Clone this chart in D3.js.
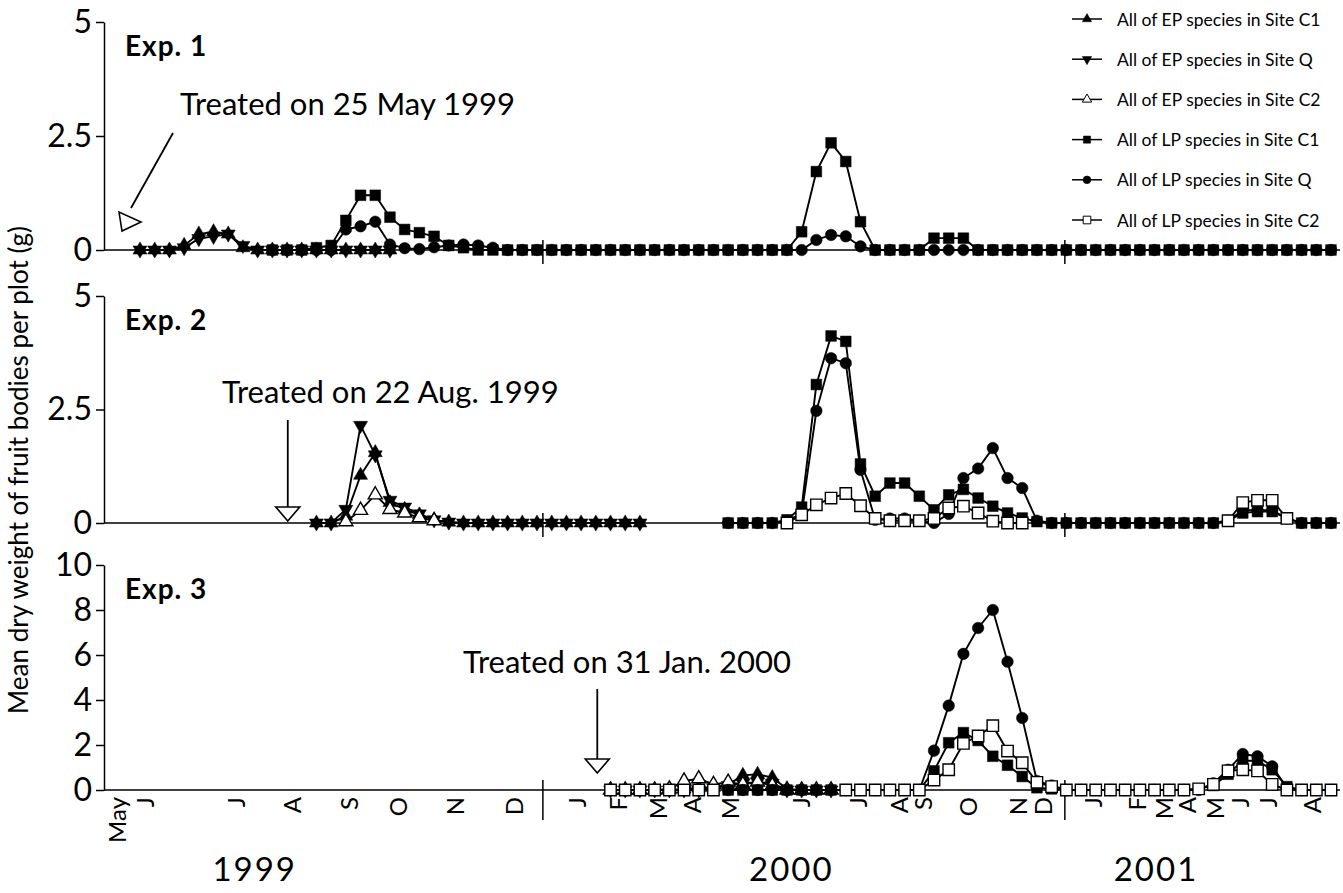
<!DOCTYPE html>
<html>
<head>
<meta charset="utf-8">
<script src="https://cdn.jsdelivr.net/npm/d3@7"></script>
<style>
  body { margin: 0; background: #fff; }
  text { font-family: Lato, "Open Sans", sans-serif; fill: #000; }
</style>
</head>
<body>
<div id="chart"></div>
<script>
const W = 1343;
const H = 893;

// x axis is the sampling sequence (one step per sampling date), not calendar time
const monthLabels = ['May','J','J','A','S','O','N','D','J','F','M','A','M','J','J','A','S','O','N','D','J','F','M','A','M','J','J','A'];
const monthAt = [-1.6,0.3,6.5,10.3,14.2,17.5,21.4,25.4,29.7,32.5,35.2,37.5,40.1,44.9,48.8,51.6,53.2,56.3,59.7,61.4,64.8,67.8,69.6,71.2,73.1,74.8,76.7,79.7];
const yearLabels = ['1999','2000','2001'];
const yearAt = [7.8, 44.3, 69.1];
const yearBreaks = [27.4, 62.9];

const seriesNames = [
  'All of EP species in Site C1',
  'All of EP species in Site Q',
  'All of EP species in Site C2',
  'All of LP species in Site C1',
  'All of LP species in Site Q',
  'All of LP species in Site C2'
];

// Exp. 1 -- each array starts at the sampling index noted
const exp1EpC1 = [0,0,0,0.1,0.35,0.4,0.35,0.05,0,0,0,0,0,0,0,0,0,0];           // from 0
const exp1EpQ  = [0,0,0,0.05,0.25,0.3,0.35,0.1,0,0,0,0,0,0,0,0,0,0];           // from 0
const exp1LpC1 = [0,0,0,0.05,0.1,0.65,1.2,1.2,0.72,0.45,0.38,0.3,0.1,0.05,
  0,0,0,0,0,0,0,0,0,0,0,0,0,0,0,0,0,0,0,0,0,0,
  0.4,1.72,2.35,1.94,0.62,0,0,0,0,0.26,0.26,0.26,
  0,0,0,0,0,0,0,0,0,0,0,0,0,0,0,0,0,0,0,0,0,0,0,0,0];                         // from 9
const exp1LpQ  = [0,0,0,0,0,0.45,0.52,0.62,0.12,0.04,0.02,0.06,0.1,0.12,0.1,0.05,
  0,0,0,0,0,0,0,0,0,0,0,0,0,0,0,0,0,0,0,0,0,
  0.22,0.33,0.3,0.08,
  0,0,0,0,0,0,0,0,0,0,0,0,0,0,0,0,0,0,0,0,0,0,0,0,0,0,0,0,0,0,0,0];           // from 9

// Exp. 2
const exp2EpC1 = [0,0,0.15,1.05,1.55,0.45,0.3,0.18,0.07,0.02,0,0,0,0,0,0,0,0,0,0,0,0,0]; // from 12
const exp2EpQ  = [0,0,0.3,2.15,1.5,0.5,0.35,0.2,0.07,0.02,0,0,0,0,0,0,0,0,0,0,0,0,0];   // from 12
const exp2EpC2 = [0.03,0.28,0.62,0.3,0.22,0.12,0.05];                                    // from 14
const exp2LpC1 = [0,0,0,0,0.07,0.35,3.05,4.12,4.0,1.3,0.59,0.88,0.88,0.59,0.29,0.62,0.74,0.55,0.37,0.22,0.11,0.03,
  0,0,0,0,0,0,0,0,0,0,0,0,0.05,0.22,0.25,0.25,0.1,0,0,0];                               // from 40
const exp2LpQ  = [0,0,0,0,0.05,0.2,2.47,3.63,3.52,1.17,0.07,0.1,0.1,0.05,0,0.2,0.99,1.2,1.65,0.99,0.77,0.05,
  0,0,0,0,0,0,0,0,0,0,0,0,0.05,0.28,0.28,0.28,0.1,0,0,0];                               // from 40
const exp2LpC2a = [0,0.18,0.4,0.55,0.65,0.38,0.1,0.05,0.05,0.05,0.1,0.33,0.37,0.22,0.04,0,0]; // from 44
const exp2LpC2b = [0.05,0.45,0.5,0.5,0.1];                                               // from 74

// Exp. 3
const exp3EpC1 = [0,0,0,0,0,0.05,0.1,0.1,0.25,0.65,0.7,0.55,0.05,0,0,0];   // from 32
const exp3EpQ  = [0,0,0,0,0,0,0,0.1,0.2,0.3,0.35,0.3,0,0,0,0];             // from 32
const exp3EpC2 = [0,0,0,0,0.05,0.4,0.5,0.25,0.35,0.25,0.35,0.2,0,0,0,0];   // from 32
const exp3LpC1 = [0,0,0,0,0,0,0,0,0,0,0,0,0,0,
  0.85,2.1,2.55,2.2,1.5,1.1,0.6,0.1,0.05,
  0,0,0,0,0,0,0,0,0,0.05,0.2,0.7,1.3,1.3,0.9,0.15,0,0,0];                 // from 40
const exp3LpQ  = [0,0,0,0,0,0,0,0,0,0,0,0,0,0,
  1.75,3.75,6.05,7.2,8.0,5.7,3.2,0.4,0.2,
  0,0,0,0,0,0,0,0,0,0,0.3,0.9,1.6,1.5,1.05,0.1,0,0,0];                    // from 40
const exp3LpC2a = [0,0,0,0,0,0,0,0];                                        // from 32
const exp3LpC2b = [0,0,0,0,0,0,0.44,0.9,2.07,2.4,2.86,1.73,1.21,0.34,0.15,
  0,0,0,0,0,0,0,0,0,0.05,0.25,0.85,0.9,0.85,0.25,0,0,0,0];                 // from 48

const treatText = ['Treated on 25 May 1999', 'Treated on 22 Aug. 1999', 'Treated on 31 Jan. 2000'];

const panels = [
  { label: 'Exp. 1', top: 22, bottom: 250, max: 5, ticks: [0, 2.5, 5],
    series: [[[0, exp1EpC1]], [[0, exp1EpQ]], [], [[9, exp1LpC1]], [[9, exp1LpQ]], []] },
  { label: 'Exp. 2', top: 296, bottom: 523, max: 5, ticks: [0, 2.5, 5],
    series: [[[12, exp2EpC1]], [[12, exp2EpQ]], [[14, exp2EpC2]], [[40, exp2LpC1]], [[40, exp2LpQ]],
             [[44, exp2LpC2a], [74, exp2LpC2b]]] },
  { label: 'Exp. 3', top: 565, bottom: 790, max: 10, ticks: [0, 2, 4, 6, 8, 10],
    series: [[[32, exp3EpC1]], [[32, exp3EpQ]], [[32, exp3EpC2]], [[40, exp3LpC1]], [[40, exp3LpQ]],
             [[32, exp3LpC2a], [48, exp3LpC2b]]] }
];

const styles = [
  { type: d3.symbolTriangle, rot: 0,   fill: '#000', size: 85 },
  { type: d3.symbolTriangle, rot: 180, fill: '#000', size: 85 },
  { type: d3.symbolTriangle, rot: 0,   fill: '#fff', size: 85 },
  { type: d3.symbolSquare,   rot: 0,   fill: '#000', size: 115 },
  { type: d3.symbolCircle,   rot: 0,   fill: '#000', size: 105 },
  { type: d3.symbolSquare,   rot: 0,   fill: '#fff', size: 130 }
];

const svg = d3.select('#chart').append('svg').attr('width', W).attr('height', H);

const AXIS_X = 104;
const AXIS_END = 1340;
const x = d3.scaleLinear().domain([0, 81]).range([140, 1331]);

panels.forEach((p, pi) => {
  const y = d3.scaleLinear().domain([0, p.max]).range([p.bottom, p.top]);
  const g = svg.append('g');

  const ax = g.append('g')
    .attr('transform', `translate(${AXIS_X},0)`)
    .call(d3.axisLeft(y).tickValues(p.ticks).tickSize(8).tickSizeOuter(0).tickPadding(4).tickFormat(d => d));
  ax.select('.domain').attr('stroke', '#000').attr('stroke-width', 1.5);
  ax.selectAll('.tick line').attr('stroke', '#000').attr('stroke-width', 1.5);
  ax.selectAll('.tick text').style('font-size', '32px').style('font-family', 'Lato, sans-serif');

  g.append('line')
    .attr('x1', AXIS_X).attr('x2', AXIS_END)
    .attr('y1', y(0)).attr('y2', y(0))
    .attr('stroke', '#000').attr('stroke-width', 1.5);

  yearBreaks.forEach(b => {
    g.append('line')
      .attr('x1', x(b)).attr('x2', x(b))
      .attr('y1', y(0) - 10).attr('y2', y(0) + (pi === 2 ? 30 : 14))
      .attr('stroke', '#000').attr('stroke-width', 1.5);
  });

  g.append('text')
    .attr('x', 125).attr('y', p.top + 34)
    .style('font-size', '28px').style('font-weight', 'bold').style('letter-spacing', '1px')
    .text(p.label);

  p.series.forEach((segs, si) => {
    const st = styles[si];
    segs.forEach(([start, vals]) => {
      const pts = vals.map((v, k) => [start + k, v]);
      g.append('path')
        .attr('d', d3.line().x(d => x(d[0])).y(d => y(d[1]))(pts))
        .attr('fill', 'none').attr('stroke', '#000').attr('stroke-width', 1.9);
      g.selectAll(null).data(pts).join('path')
        .attr('d', d3.symbol(st.type, st.size))
        .attr('transform', d => `translate(${x(d[0])},${y(d[1])}) rotate(${st.rot})`)
        .attr('fill', st.fill)
        .attr('stroke', '#000')
        .attr('stroke-width', st.fill === '#fff' ? 1.4 : 0.5);
    });
  });
});

// treatment annotations
const ann = svg.append('g');
const annStyle = s => s.style('font-size', '31px');
ann.append('text').attr('x', 180).attr('y', 115).call(annStyle).text(treatText[0]);
ann.append('line').attr('x1', 173).attr('y1', 133).attr('x2', 131).attr('y2', 208)
  .attr('stroke', '#000').attr('stroke-width', 1.8);
ann.append('path').attr('d', 'M119,212 L122,231 L141,222 Z')
  .attr('fill', '#fff').attr('stroke', '#000').attr('stroke-width', 1.6);

ann.append('text').attr('x', 222).attr('y', 403).call(annStyle).text(treatText[1]);
ann.append('line').attr('x1', x(10.05)).attr('x2', x(10.05)).attr('y1', 420).attr('y2', 507)
  .attr('stroke', '#000').attr('stroke-width', 1.8);
ann.append('path').attr('d', `M${x(10.05) - 12},507 H${x(10.05) + 12} L${x(10.05)},521 Z`)
  .attr('fill', '#fff').attr('stroke', '#000').attr('stroke-width', 1.6);

ann.append('text').attr('x', 463).attr('y', 673).call(annStyle).text(treatText[2]);
ann.append('line').attr('x1', x(31.1)).attr('x2', x(31.1)).attr('y1', 689).attr('y2', 759)
  .attr('stroke', '#000').attr('stroke-width', 1.8);
ann.append('path').attr('d', `M${x(31.1) - 12},759 H${x(31.1) + 12} L${x(31.1)},773 Z`)
  .attr('fill', '#fff').attr('stroke', '#000').attr('stroke-width', 1.6);

// month labels, rotated
svg.append('g').selectAll('text').data(monthLabels).join('text')
  .attr('transform', (d, i) => `translate(${x(monthAt[i])},797) rotate(-90)`)
  .attr('text-anchor', 'end').attr('dominant-baseline', 'central')
  .style('font-size', '24px')
  .text(d => d);

svg.append('g').selectAll('text').data(yearLabels).join('text')
  .attr('x', (d, i) => x(yearAt[i])).attr('y', 881)
  .attr('text-anchor', 'middle')
  .style('font-size', '33px').style('letter-spacing', '2px')
  .text(d => d);

// y title
svg.append('text')
  .attr('transform', 'translate(28,470) rotate(-90)')
  .attr('text-anchor', 'middle')
  .style('font-size', '26px')
  .text('Mean dry weight of fruit bodies per plot (g)');

// legend
const leg = svg.append('g');
seriesNames.forEach((name, i) => {
  const ly = 19 + i * 40.2;
  const st = styles[i];
  leg.append('line').attr('x1', 1072).attr('x2', 1102).attr('y1', ly).attr('y2', ly)
    .attr('stroke', '#000').attr('stroke-width', 1.5);
  leg.append('path')
    .attr('d', d3.symbol(st.type, st.size * 0.45))
    .attr('transform', `translate(1087,${ly}) rotate(${st.rot})`)
    .attr('fill', st.fill).attr('stroke', '#000').attr('stroke-width', st.fill === '#fff' ? 1 : 0.5);
  leg.append('text').attr('x', 1117).attr('y', ly).attr('dominant-baseline', 'central')
    .style('font-size', '17.5px').text(name);
});
</script>
</body>
</html>
